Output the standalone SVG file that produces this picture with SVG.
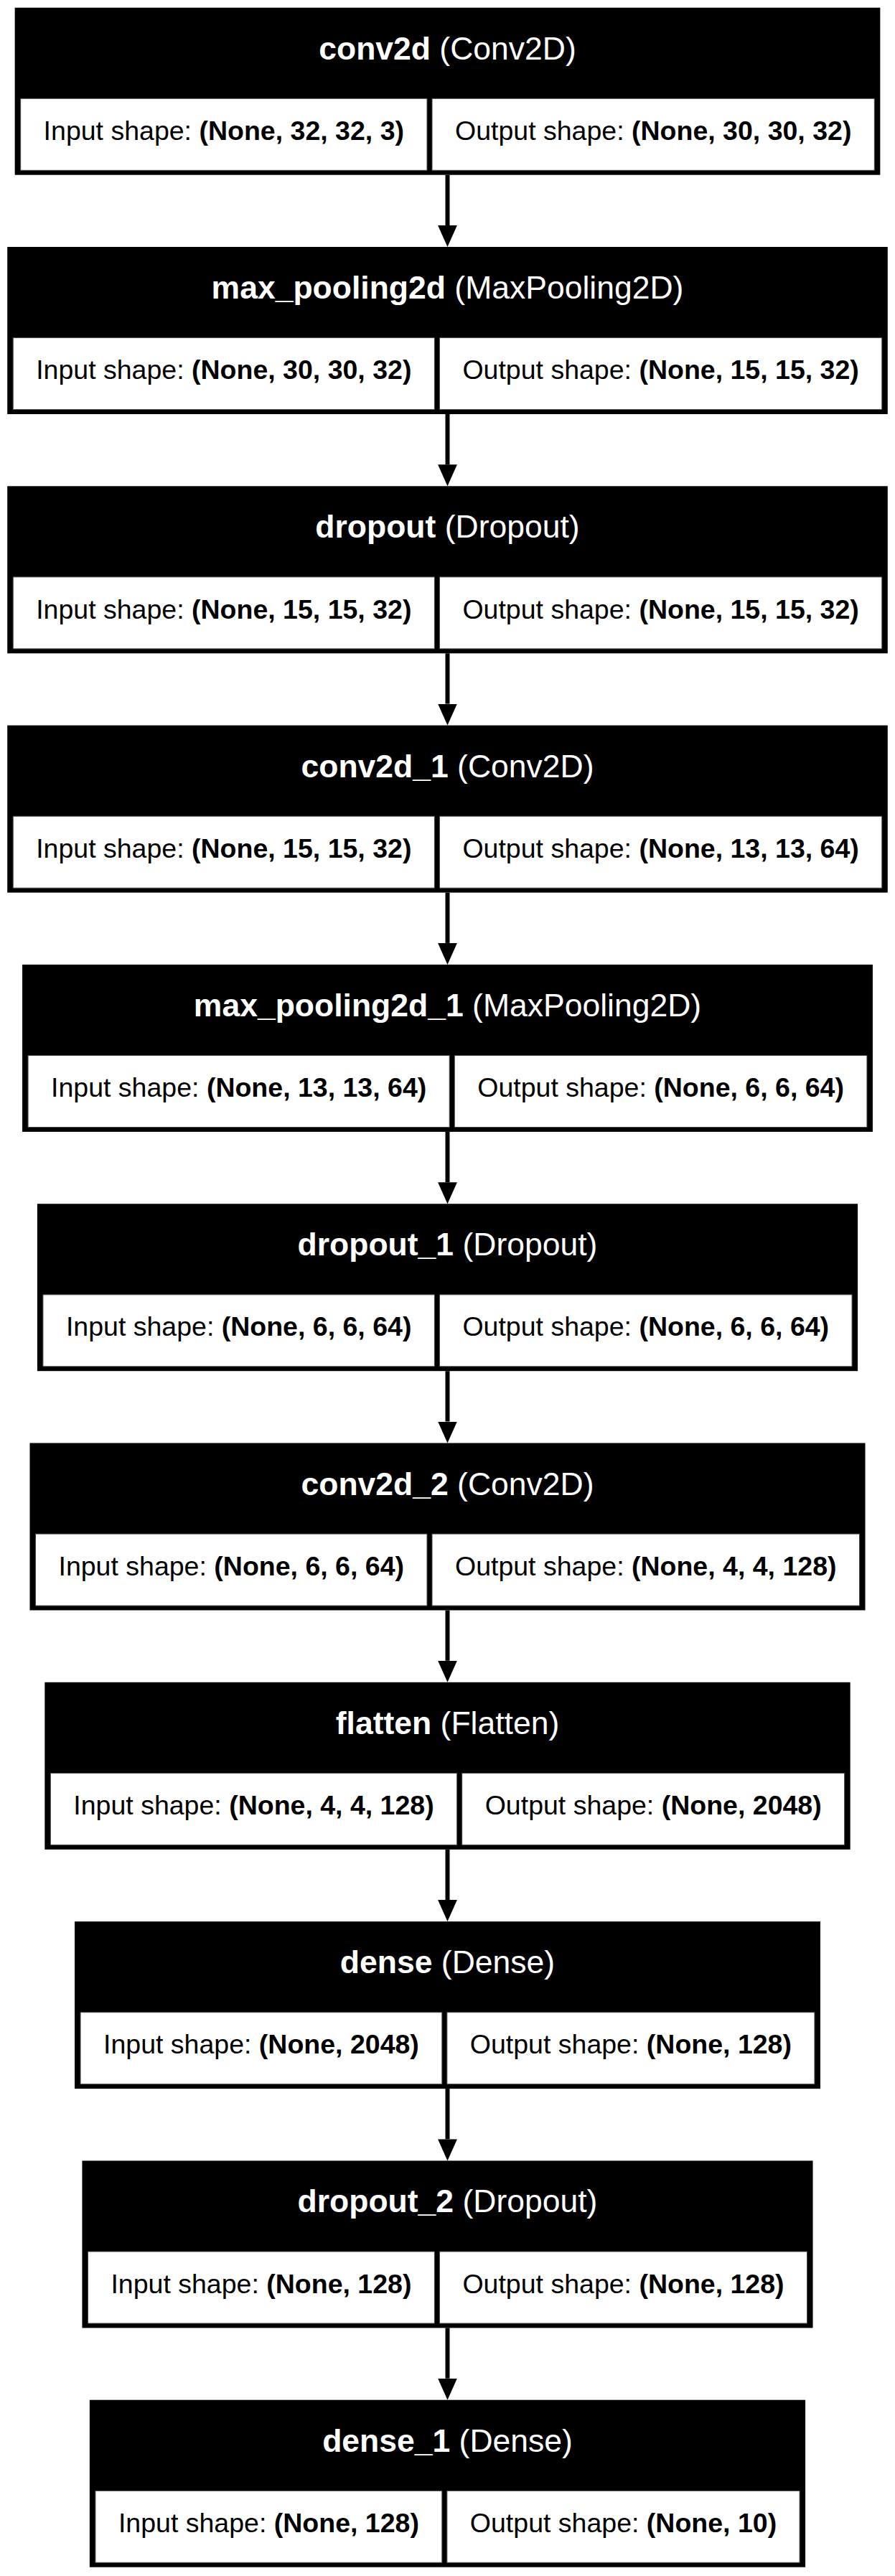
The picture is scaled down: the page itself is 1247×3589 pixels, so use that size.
<svg xmlns="http://www.w3.org/2000/svg" width="1247" height="3589" viewBox="0 0 1247 3589">
<defs>
<style>
.outer{fill:#000;stroke:none}
.cell{fill:#fff;stroke:#444;stroke-width:1}
.hd{font-family:"Liberation Sans",Arial,Helvetica,sans-serif;font-size:44.5px;fill:#fff;text-anchor:middle}
.tx{font-family:"Liberation Sans",Arial,Helvetica,sans-serif;font-size:37.5px;fill:#000;text-anchor:middle}
.b{font-weight:bold}
.edge{stroke:#000;stroke-width:6;fill:none}
</style>
<marker id="ah" markerUnits="userSpaceOnUse" markerWidth="31" markerHeight="28" refX="0" refY="13.4" orient="auto" viewBox="0 0 31 28">
<path d="M0,0 L30,13.4 L0,26.8 Z" fill="#000"/>
</marker>
</defs>
<rect width="1247" height="3589" fill="#fff"/>
<g id="edges">
<line class="edge" x1="623.5" y1="243.7" x2="623.5" y2="314" marker-end="url(#ah)"/>
<line class="edge" x1="623.5" y1="577" x2="623.5" y2="647.3" marker-end="url(#ah)"/>
<line class="edge" x1="623.5" y1="910.3" x2="623.5" y2="980.6" marker-end="url(#ah)"/>
<line class="edge" x1="623.5" y1="1243.6" x2="623.5" y2="1313.9" marker-end="url(#ah)"/>
<line class="edge" x1="623.5" y1="1576.9" x2="623.5" y2="1647.2" marker-end="url(#ah)"/>
<line class="edge" x1="623.5" y1="1910.2" x2="623.5" y2="1980.5" marker-end="url(#ah)"/>
<line class="edge" x1="623.5" y1="2243.5" x2="623.5" y2="2313.8" marker-end="url(#ah)"/>
<line class="edge" x1="623.5" y1="2576.8" x2="623.5" y2="2647.1" marker-end="url(#ah)"/>
<line class="edge" x1="623.5" y1="2910.1" x2="623.5" y2="2980.4" marker-end="url(#ah)"/>
<line class="edge" x1="623.5" y1="3243.4" x2="623.5" y2="3313.7" marker-end="url(#ah)"/>
</g>
<g id="conv2d" transform="translate(0,10.7)">
<rect class="outer" x="20.65" y="0" width="1205.7" height="233"/>
<rect class="cell" x="28.65" y="126.6" width="566.35" height="100"/>
<rect class="cell" x="602" y="126.6" width="616.35" height="100"/>
<text class="hd" x="623.5" y="72"><tspan class="b">conv2d</tspan> (Conv2D)</text>
<text class="tx" x="311.8" y="184.3">Input shape: <tspan class="b">(None, 32, 32, 3)</tspan></text>
<text class="tx" x="910.2" y="184.3">Output shape: <tspan class="b">(None, 30, 30, 32)</tspan></text>
</g>
<g id="max_pooling2d" transform="translate(0,344)">
<rect class="outer" x="10.21" y="0" width="1226.58" height="233"/>
<rect class="cell" x="18.21" y="126.6" width="587.2" height="100"/>
<rect class="cell" x="612.41" y="126.6" width="616.38" height="100"/>
<text class="hd" x="623.5" y="72"><tspan class="b">max_pooling2d</tspan> (MaxPooling2D)</text>
<text class="tx" x="311.8" y="184.3">Input shape: <tspan class="b">(None, 30, 30, 32)</tspan></text>
<text class="tx" x="920.6" y="184.3">Output shape: <tspan class="b">(None, 15, 15, 32)</tspan></text>
</g>
<g id="dropout" transform="translate(0,677.3)">
<rect class="outer" x="10.21" y="0" width="1226.58" height="233"/>
<rect class="cell" x="18.21" y="126.6" width="587.2" height="100"/>
<rect class="cell" x="612.41" y="126.6" width="616.38" height="100"/>
<text class="hd" x="623.5" y="72"><tspan class="b">dropout</tspan> (Dropout)</text>
<text class="tx" x="311.8" y="184.3">Input shape: <tspan class="b">(None, 15, 15, 32)</tspan></text>
<text class="tx" x="920.6" y="184.3">Output shape: <tspan class="b">(None, 15, 15, 32)</tspan></text>
</g>
<g id="conv2d_1" transform="translate(0,1010.6)">
<rect class="outer" x="10.21" y="0" width="1226.58" height="233"/>
<rect class="cell" x="18.21" y="126.6" width="587.2" height="100"/>
<rect class="cell" x="612.41" y="126.6" width="616.38" height="100"/>
<text class="hd" x="623.5" y="72"><tspan class="b">conv2d_1</tspan> (Conv2D)</text>
<text class="tx" x="311.8" y="184.3">Input shape: <tspan class="b">(None, 15, 15, 32)</tspan></text>
<text class="tx" x="920.6" y="184.3">Output shape: <tspan class="b">(None, 13, 13, 64)</tspan></text>
</g>
<g id="max_pooling2d_1" transform="translate(0,1343.9)">
<rect class="outer" x="31.06" y="0" width="1184.88" height="233"/>
<rect class="cell" x="39.06" y="126.6" width="587.2" height="100"/>
<rect class="cell" x="633.26" y="126.6" width="574.68" height="100"/>
<text class="hd" x="623.5" y="72"><tspan class="b">max_pooling2d_1</tspan> (MaxPooling2D)</text>
<text class="tx" x="332.66" y="184.3">Input shape: <tspan class="b">(None, 13, 13, 64)</tspan></text>
<text class="tx" x="920.6" y="184.3">Output shape: <tspan class="b">(None, 6, 6, 64)</tspan></text>
</g>
<g id="dropout_1" transform="translate(0,1677.2)">
<rect class="outer" x="51.91" y="0" width="1143.18" height="233"/>
<rect class="cell" x="59.91" y="126.6" width="545.5" height="100"/>
<rect class="cell" x="612.41" y="126.6" width="574.68" height="100"/>
<text class="hd" x="623.5" y="72"><tspan class="b">dropout_1</tspan> (Dropout)</text>
<text class="tx" x="332.66" y="184.3">Input shape: <tspan class="b">(None, 6, 6, 64)</tspan></text>
<text class="tx" x="899.75" y="184.3">Output shape: <tspan class="b">(None, 6, 6, 64)</tspan></text>
</g>
<g id="conv2d_2" transform="translate(0,2010.5)">
<rect class="outer" x="41.49" y="0" width="1164.02" height="233"/>
<rect class="cell" x="49.49" y="126.6" width="545.5" height="100"/>
<rect class="cell" x="601.99" y="126.6" width="595.52" height="100"/>
<text class="hd" x="623.5" y="72"><tspan class="b">conv2d_2</tspan> (Conv2D)</text>
<text class="tx" x="322.24" y="184.3">Input shape: <tspan class="b">(None, 6, 6, 64)</tspan></text>
<text class="tx" x="899.75" y="184.3">Output shape: <tspan class="b">(None, 4, 4, 128)</tspan></text>
</g>
<g id="flatten" transform="translate(0,2343.8)">
<rect class="outer" x="62.34" y="0" width="1122.32" height="233"/>
<rect class="cell" x="70.34" y="126.6" width="566.35" height="100"/>
<rect class="cell" x="643.69" y="126.6" width="532.97" height="100"/>
<text class="hd" x="623.5" y="72"><tspan class="b">flatten</tspan> (Flatten)</text>
<text class="tx" x="353.5" y="184.3">Input shape: <tspan class="b">(None, 4, 4, 128)</tspan></text>
<text class="tx" x="910.2" y="184.3">Output shape: <tspan class="b">(None, 2048)</tspan></text>
</g>
<g id="dense" transform="translate(0,2677.1)">
<rect class="outer" x="104.04" y="0" width="1038.92" height="233"/>
<rect class="cell" x="112.04" y="126.6" width="503.8" height="100"/>
<rect class="cell" x="622.84" y="126.6" width="512.12" height="100"/>
<text class="hd" x="623.5" y="72"><tspan class="b">dense</tspan> (Dense)</text>
<text class="tx" x="363.94" y="184.3">Input shape: <tspan class="b">(None, 2048)</tspan></text>
<text class="tx" x="878.9" y="184.3">Output shape: <tspan class="b">(None, 128)</tspan></text>
</g>
<g id="dropout_2" transform="translate(0,3010.4)">
<rect class="outer" x="114.46" y="0" width="1018.08" height="233"/>
<rect class="cell" x="122.46" y="126.6" width="482.95" height="100"/>
<rect class="cell" x="612.41" y="126.6" width="512.13" height="100"/>
<text class="hd" x="623.5" y="72"><tspan class="b">dropout_2</tspan> (Dropout)</text>
<text class="tx" x="363.94" y="184.3">Input shape: <tspan class="b">(None, 128)</tspan></text>
<text class="tx" x="868.5" y="184.3">Output shape: <tspan class="b">(None, 128)</tspan></text>
</g>
<g id="dense_1" transform="translate(0,3343.7)">
<rect class="outer" x="124.89" y="0" width="997.22" height="233"/>
<rect class="cell" x="132.89" y="126.6" width="482.95" height="100"/>
<rect class="cell" x="622.84" y="126.6" width="491.27" height="100"/>
<text class="hd" x="623.5" y="72"><tspan class="b">dense_1</tspan> (Dense)</text>
<text class="tx" x="374.4" y="184.3">Input shape: <tspan class="b">(None, 128)</tspan></text>
<text class="tx" x="868.5" y="184.3">Output shape: <tspan class="b">(None, 10)</tspan></text>
</g>
</svg>
